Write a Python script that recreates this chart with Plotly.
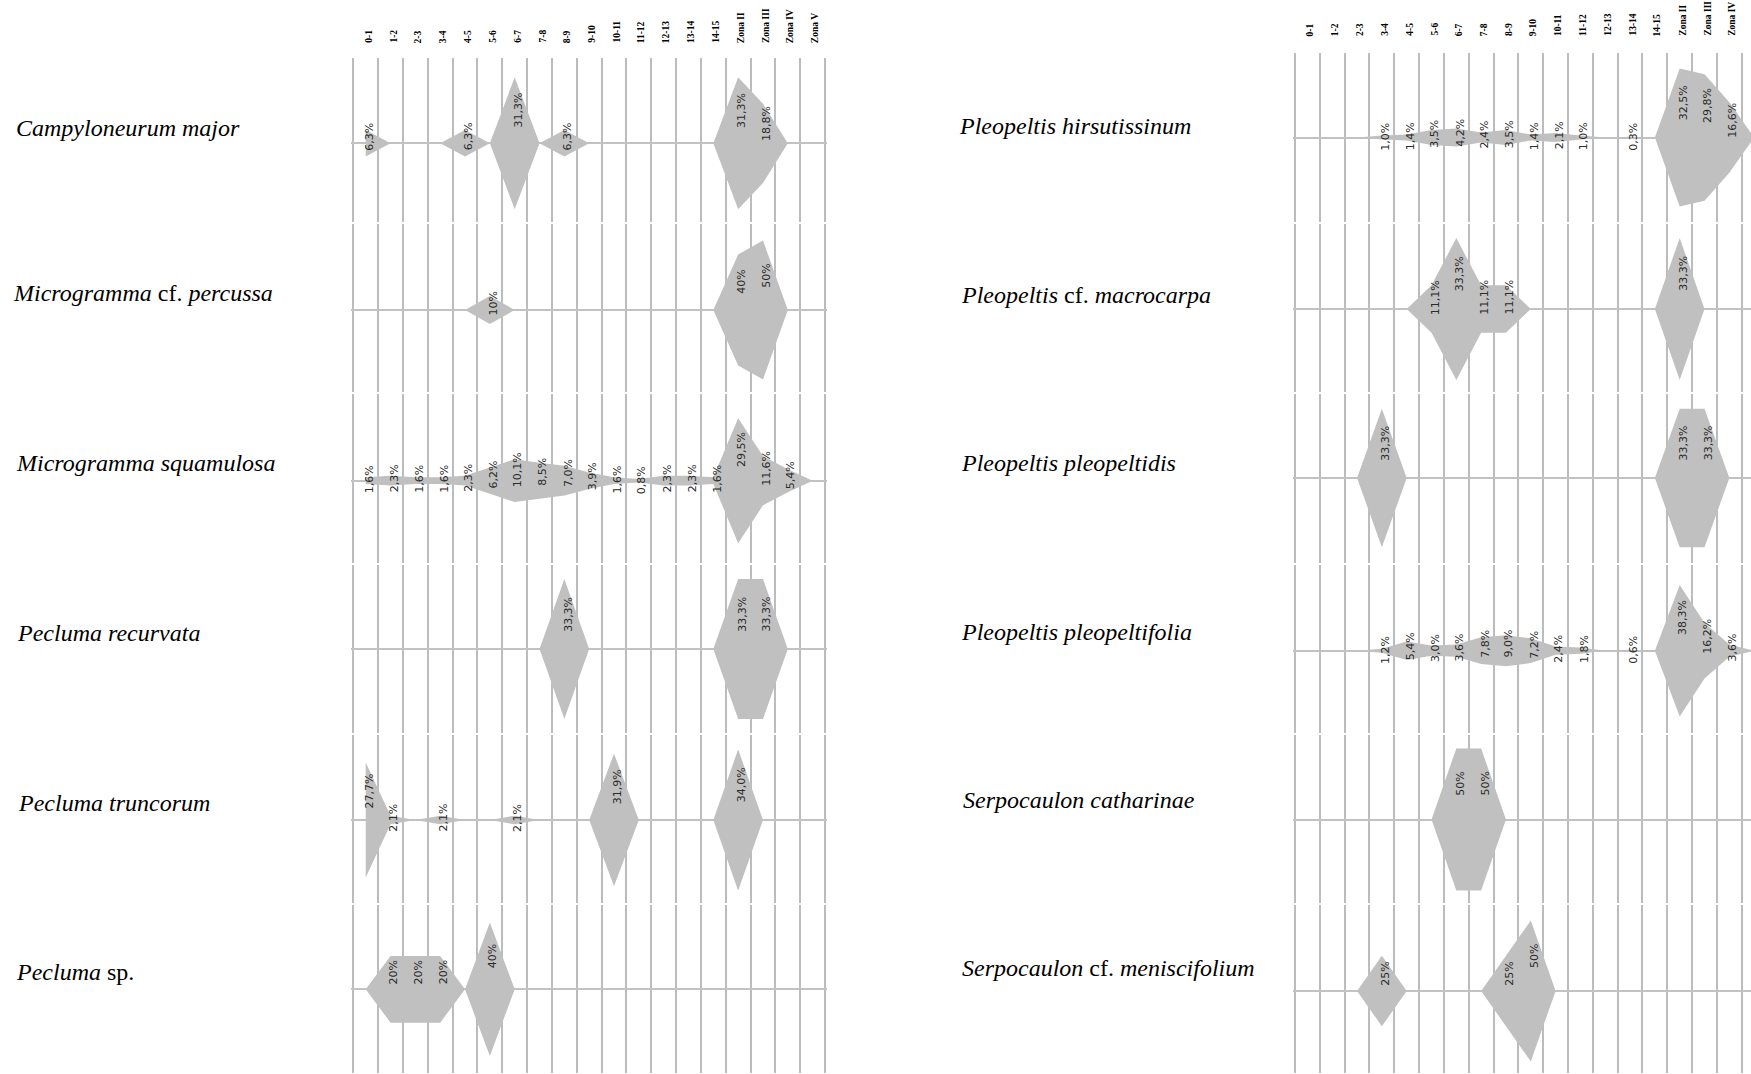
import plotly.graph_objects as go

W, H = 1751, 1074

# Sampling classes: 15 height classes (m) plus the Johansson zones
columns = ["0-1", "1-2", "2-3", "3-4", "4-5", "5-6", "6-7", "7-8", "8-9", "9-10",
           "10-11", "11-12", "12-13", "13-14", "14-15",
           "Zona II", "Zona III", "Zona IV", "Zona V"]

# ---- left block -----------------------------------------------------------
left_names = ["<i>Campyloneurum major</i>",
              "<i>Microgramma</i> cf. <i>percussa</i>",
              "<i>Microgramma squamulosa</i>",
              "<i>Pecluma recurvata</i>",
              "<i>Pecluma truncorum</i>",
              "<i>Pecluma</i> sp."]

campyloneurum_major = [6.3, 0, 0, 0, 6.3, 0, 31.3, 0, 6.3, 0, 0, 0, 0, 0, 0, 31.3, 18.8, 0, 0]
microgramma_percussa = [0, 0, 0, 0, 0, 10, 0, 0, 0, 0, 0, 0, 0, 0, 0, 40, 50, 0, 0]
microgramma_squamulosa = [1.6, 2.3, 1.6, 1.6, 2.3, 6.2, 10.1, 8.5, 7.0, 3.9, 1.6, 0.8, 2.3, 2.3, 1.6,
                          29.5, 11.6, 5.4, 0]
pecluma_recurvata = [0, 0, 0, 0, 0, 0, 0, 0, 33.3, 0, 0, 0, 0, 0, 0, 33.3, 33.3, 0, 0]
pecluma_truncorum = [27.7, 2.1, 0, 2.1, 0, 0, 2.1, 0, 0, 0, 31.9, 0, 0, 0, 0, 34.0, 0, 0, 0]
pecluma_sp = [0, 20, 20, 20, 0, 40, 0, 0, 0, 0, 0, 0, 0, 0, 0, 0, 0, 0, 0]

left_values = [campyloneurum_major, microgramma_percussa, microgramma_squamulosa,
               pecluma_recurvata, pecluma_truncorum, pecluma_sp]
left_decimals = [1, 0, 1, 1, 1, 0]

# ---- right block ----------------------------------------------------------
right_names = ["<i>Pleopeltis hirsutissinum</i>",
               "<i>Pleopeltis</i> cf. <i>macrocarpa</i>",
               "<i>Pleopeltis pleopeltidis</i>",
               "<i>Pleopeltis pleopeltifolia</i>",
               "<i>Serpocaulon catharinae</i>",
               "<i>Serpocaulon</i> cf. <i>meniscifolium</i>"]

pleopeltis_hirsutissinum = [0, 0, 0, 1.0, 1.4, 3.5, 4.2, 2.4, 3.5, 1.4, 2.1, 1.0, 0, 0.3, 0,
                            32.5, 29.8, 16.6, 0]
pleopeltis_macrocarpa = [0, 0, 0, 0, 0, 11.1, 33.3, 11.1, 11.1, 0, 0, 0, 0, 0, 0, 33.3, 0, 0, 0]
pleopeltis_pleopeltidis = [0, 0, 0, 33.3, 0, 0, 0, 0, 0, 0, 0, 0, 0, 0, 0, 33.3, 33.3, 0, 0]
pleopeltis_pleopeltifolia = [0, 0, 0, 1.2, 5.4, 3.0, 3.6, 7.8, 9.0, 7.2, 2.4, 1.8, 0, 0.6, 0,
                             38.3, 16.2, 3.6, 0]
serpocaulon_catharinae = [0, 0, 0, 0, 0, 0, 50, 50, 0, 0, 0, 0, 0, 0, 0, 0, 0, 0, 0]
serpocaulon_meniscifolium = [0, 0, 0, 25, 0, 0, 0, 0, 25, 50, 0, 0, 0, 0, 0, 0, 0, 0, 0]

right_values = [pleopeltis_hirsutissinum, pleopeltis_macrocarpa, pleopeltis_pleopeltidis,
                pleopeltis_pleopeltifolia, serpocaulon_catharinae, serpocaulon_meniscifolium]
right_decimals = [1, 1, 1, 1, 0, 0]

# ---- page geometry (pixels) ----------------------------------------------
panels = [
    dict(names=left_names, values=left_values, decimals=left_decimals,
         x0=353.3, colw=24.83,
         bounds=[57, 223, 393, 564, 734, 904, 1074],
         base=[143.3, 310, 480.7, 649, 820, 989.3],
         scale=[2.11, 1.39, 2.12, 2.10, 2.08, 1.67],
         name_x=[14, 11, 14, 15, 16, 14],
         name_y=[128.4, 292.6, 463.4, 633, 803, 971.5],
         head_bottom=45),
    dict(names=right_names, values=right_values, decimals=right_decimals,
         x0=1295, colw=24.82,
         bounds=[52, 223, 393, 564, 734, 904, 1074],
         base=[137.5, 309, 478, 650.7, 819.5, 991],
         scale=[2.12, 2.13, 2.08, 1.715, 1.42, 1.41],
         name_x=[957, 959, 959, 959, 961, 960],
         name_y=[126, 294.8, 463.4, 632, 799.5, 968],
         head_bottom=38),
]

FILL = "#C0C0C0"
GRID = "#BCBCBC"
PAD = 2.0  # px of slack so the outer grid lines are kept


def px_x(p):
    return p / W


def px_y(p):
    return 1 - p / H


fig = go.Figure()
layout = {}
annotations = []
n = len(columns)
idx = 0
for panel in panels:
    x0, cw = panel["x0"], panel["colw"]
    x_end_px = min(x0 + n * cw, W - PAD)
    for r in range(6):
        idx += 1
        sfx = "" if idx == 1 else str(idx)
        xa, ya = "x" + sfx, "y" + sfx
        top, bot = panel["bounds"][r] + 1, panel["bounds"][r + 1] - 1
        base, s = panel["base"][r], panel["scale"][r]

        layout["xaxis" + sfx] = dict(
            domain=[px_x(x0 - PAD), px_x(x_end_px + PAD)],
            range=[-0.5 - PAD / cw, -0.5 + (x_end_px - x0 + PAD) / cw],
            anchor=ya, tickvals=[k - 0.5 for k in range(n + 1)],
            showgrid=True, gridcolor=GRID, gridwidth=1.5,
            showticklabels=False, ticks="", zeroline=False, showline=False,
            fixedrange=True)
        layout["yaxis" + sfx] = dict(
            domain=[px_y(min(bot, H)), px_y(top)],
            range=[-(min(bot, H) - base) / s, (base - top) / s],
            anchor=xa, showgrid=False, zeroline=True,
            zerolinecolor="#C2C2C2", zerolinewidth=2,
            showticklabels=False, ticks="", showline=False, fixedrange=True)

        vals = panel["values"][r]
        xs = list(range(n)) + list(range(n - 1, -1, -1))
        ys = list(vals) + [-v for v in reversed(vals)]
        fig.add_trace(go.Scatter(x=xs, y=ys, xaxis=xa, yaxis=ya, mode="lines",
                                 fill="toself", fillcolor=FILL,
                                 line=dict(width=0, color=FILL),
                                 hoverinfo="skip", showlegend=False))

        dec = panel["decimals"][r]
        for k, v in enumerate(vals):
            if v == 0:
                continue
            txt = (f"{v:.{dec}f}".replace(".", ",")) + "%"
            annotations.append(dict(
                x=k + 0.14, y=v / 2, xref=xa, yref=ya, text=txt, showarrow=False,
                textangle=-90, xanchor="center", yanchor="middle",
                font=dict(family="DejaVu Sans", size=11, color="#2a2a2a")))

        annotations.append(dict(
            x=px_x(panel["name_x"][r]), y=px_y(panel["name_y"][r]),
            xref="paper", yref="paper", text=panel["names"][r], showarrow=False,
            xanchor="left", yanchor="middle",
            font=dict(family="Liberation Serif", size=24, color="#000000")))

    # column headers above the first row of each block
    for k, lab in enumerate(columns):
        annotations.append(dict(
            x=px_x(x0 + (k + 0.5) * cw + 2.5), y=px_y(panel["head_bottom"]),
            xref="paper", yref="paper", text="<b>" + lab + "</b>", showarrow=False,
            textangle=-90, xanchor="center", yanchor="bottom",
            font=dict(family="Liberation Serif", size=9.5, color="#000000")))

fig.update_layout(
    width=W, height=H, margin=dict(l=0, r=0, t=0, b=0),
    paper_bgcolor="white", plot_bgcolor="rgba(0,0,0,0)",
    showlegend=False, annotations=annotations, **layout)

fig.write_html("out.html", config={"displayModeBar": False})
